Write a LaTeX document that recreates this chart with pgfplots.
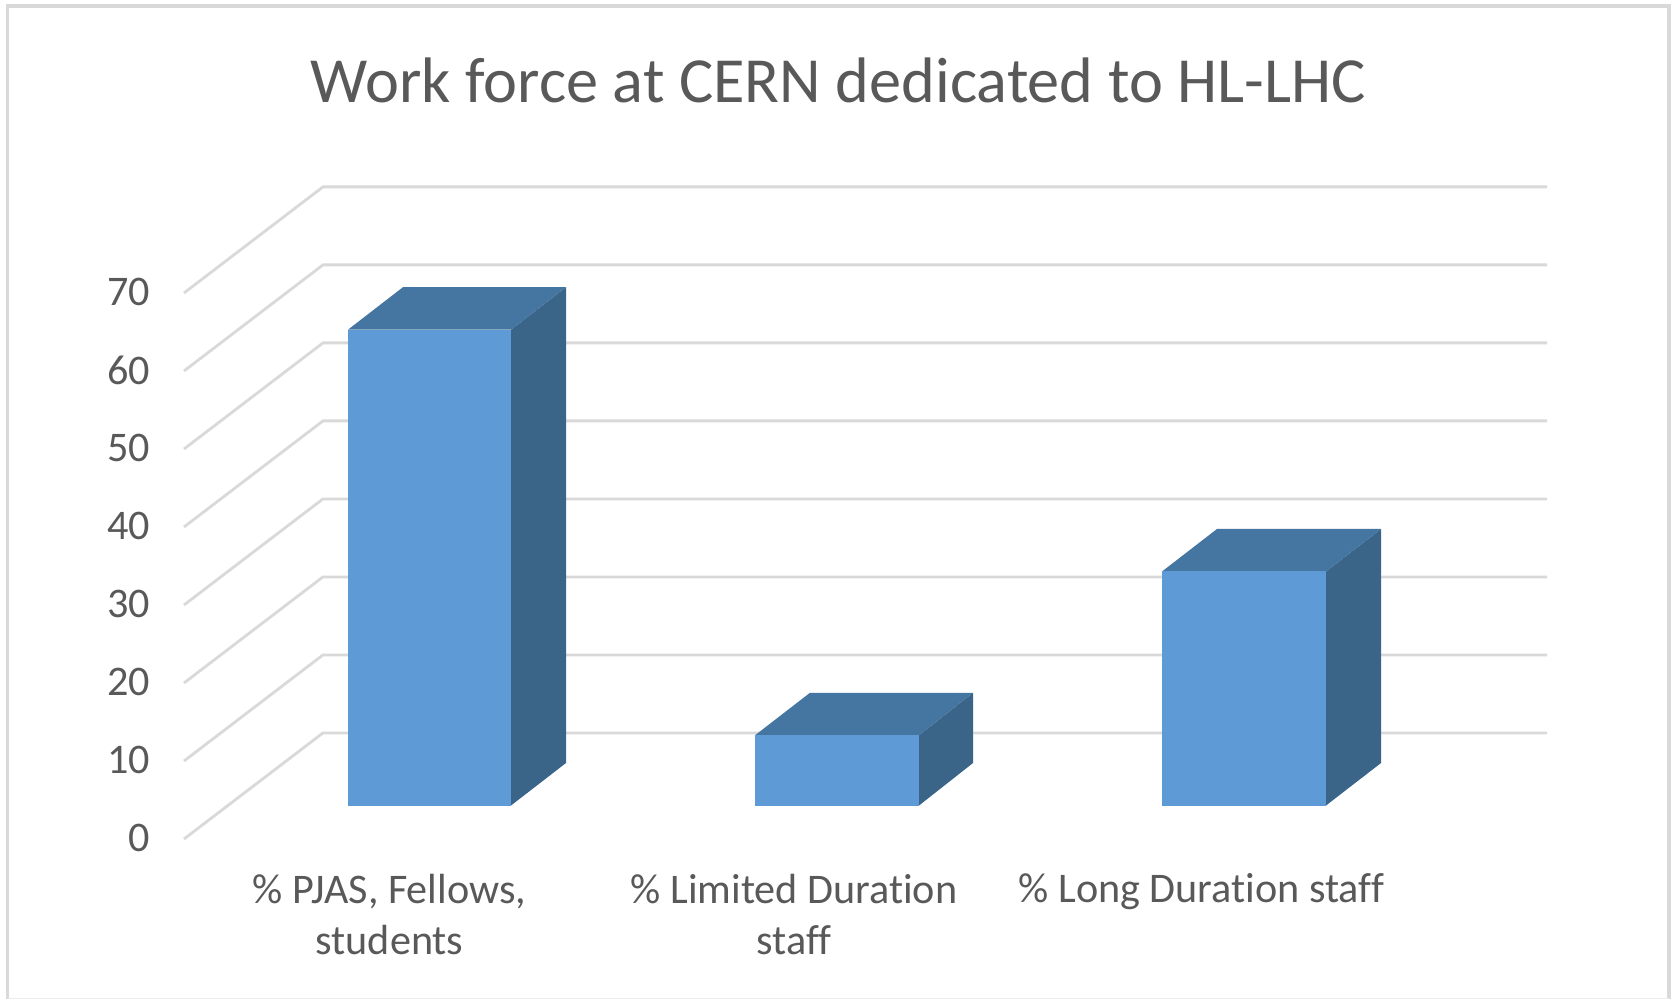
\documentclass[border=0pt]{standalone}
\usepackage{fontspec}
\setmainfont[Ligatures=NoCommon]{Carlito}
\usepackage{pgfplots}
\pgfplotsset{compat=1.18}
\definecolor{front}{HTML}{5E9AD6}
\definecolor{topc}{HTML}{4575A1}
\definecolor{sidec}{HTML}{3A6488}
\definecolor{gridc}{HTML}{D9D9D9}
\definecolor{txt}{HTML}{595959}
\definecolor{framec}{HTML}{D9D9D9}
\begin{document}
\begin{tikzpicture}[x=1mm,y=1mm]
\path[use as bounding box] (0,0) rectangle (167.3,99.9);
\fill[white] (0,0) rectangle (167.3,99.9);
\draw[framec,line width=0.35mm] (0.75,0.05) -- (0.75,99.3) -- (166.9,99.3) -- (166.9,0.05);
\draw[framec!50,line width=0.1mm] (0.75,0.05) -- (166.9,0.05);
\begin{axis}[
  at={(18.4mm,16mm)}, anchor=south west,
  scale only axis, width=136.3mm, height=65.21mm,
  xmin=184, xmax=1547, ymin=0, ymax=83.6,
  clip=false,
  axis line style={draw=none},
  major tick length=0pt,
  tick style={draw=none},
  ytick={0,10,20,30,40,50,60,70},
  xtick={389.5,794,1201.5},
  xticklabels={{\% PJAS, Fellows,\\students},{\% Limited Duration\\staff},{\% Long Duration staff}},
  /pgf/number format/assume math mode=true,
  ticklabel style={font=\fontsize{12}{14.6}\selectfont,text=txt},
  yticklabel style={xshift=-2.15mm,yshift=0.1mm},
  xticklabel style={align=center,anchor=north,yshift=-2.25mm},
  title={Work force at CERN dedicated to HL-LHC},
  title style={at={(rel axis cs:0.48,1.0976)},anchor=base,yshift=0pt,font=\fontsize{18.3}{22}\selectfont,text=txt},
  barshift/.style={y filter/.expression={y+4.295}},
]
% wall and floor gridlines (front edge to back wall, then along it)
\addplot[gridc,line width=0.28mm] coordinates {(184,0)(323,13.6)(1547,13.6)};
\addplot[gridc,line width=0.28mm] coordinates {(184,10)(323,23.6)(1547,23.6)};
\addplot[gridc,line width=0.28mm] coordinates {(184,20)(323,33.6)(1547,33.6)};
\addplot[gridc,line width=0.28mm] coordinates {(184,30)(323,43.6)(1547,43.6)};
\addplot[gridc,line width=0.28mm] coordinates {(184,40)(323,53.6)(1547,53.6)};
\addplot[gridc,line width=0.28mm] coordinates {(184,50)(323,63.6)(1547,63.6)};
\addplot[gridc,line width=0.28mm] coordinates {(184,60)(323,73.6)(1547,73.6)};
\addplot[gridc,line width=0.28mm] coordinates {(184,70)(323,83.6)(1547,83.6)};
% bar 1: 61
\addplot[barshift,fill=sidec,draw=none] coordinates {(511,0)(566,5.45)(566,66.45)(511,61)} --cycle;
\addplot[barshift,fill=topc,draw=none] coordinates {(348,61)(403,66.45)(566,66.45)(511,61)} --cycle;
\addplot[barshift,fill=front,draw=none] coordinates {(348,0)(511,0)(511,61)(348,61)} --cycle;
% bar 2: 9
\addplot[barshift,fill=sidec,draw=none] coordinates {(919,0)(973,5.45)(973,14.45)(919,9)} --cycle;
\addplot[barshift,fill=topc,draw=none] coordinates {(755,9)(810,14.45)(973,14.45)(919,9)} --cycle;
\addplot[barshift,fill=front,draw=none] coordinates {(755,0)(919,0)(919,9)(755,9)} --cycle;
% bar 3: 30
\addplot[barshift,fill=sidec,draw=none] coordinates {(1326,0)(1381,5.45)(1381,35.45)(1326,30)} --cycle;
\addplot[barshift,fill=topc,draw=none] coordinates {(1162,30)(1217,35.45)(1381,35.45)(1326,30)} --cycle;
\addplot[barshift,fill=front,draw=none] coordinates {(1162,0)(1326,0)(1326,30)(1162,30)} --cycle;
\end{axis}
\end{tikzpicture}
\end{document}
